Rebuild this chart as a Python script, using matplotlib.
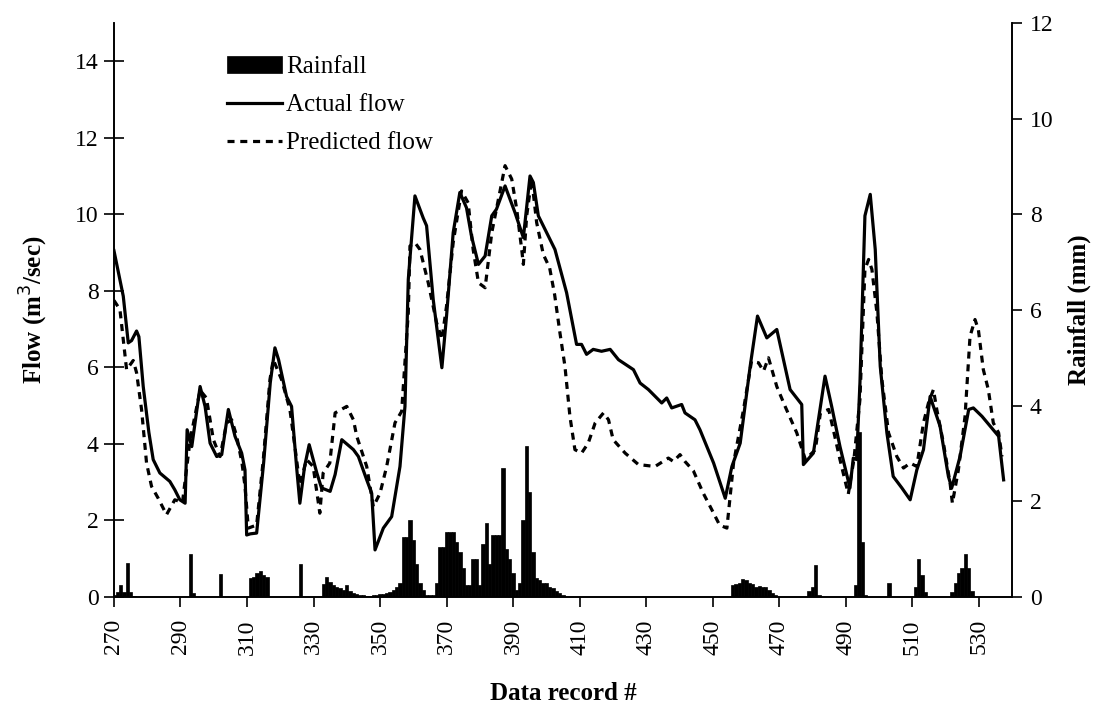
import matplotlib
matplotlib.use('Agg')
import matplotlib.pyplot as plt
import numpy as np

plt.rcParams['font.family'] = ['Liberation Serif', 'DejaVu Serif']

# registro / vazão observada (m3/s)
actual_x = [270.0, 272.8, 274.3, 275.3, 276.8, 277.5, 278.8, 280.5, 281.8, 283.8, 286.8, 288.3, 289.8,
            291.4, 292.0, 293.4, 295.9, 297.4, 298.9, 300.9, 302.4, 304.4, 306.4, 308.4, 309.4, 309.9,
            311.0, 312.9, 315.0, 317.0, 318.4, 319.5, 321.9, 323.4, 324.9, 325.9, 327.3, 328.7, 331.0,
            332.4, 335.0, 336.5, 338.5, 342.0, 343.5, 346.0, 347.5, 348.5, 351.0, 353.5, 356.0, 357.5,
            358.5, 360.5, 363.0, 364.0, 366.0, 368.6, 370.0, 372.0, 374.0, 376.0, 377.5, 379.6, 381.6,
            383.6, 385.0, 387.6, 390.6, 393.1, 395.1, 396.1, 397.6, 400.6, 402.6, 406.1, 409.1, 410.6,
            412.1, 414.1, 416.6, 419.2, 421.7, 426.2, 428.2, 430.7, 434.7, 436.2, 437.7, 440.7, 441.7,
            444.7, 446.2, 450.3, 453.8, 455.8, 458.3, 461.3, 463.5, 466.3, 469.3, 473.3, 476.8, 477.3,
            480.3, 483.8, 485.8, 488.3, 491.3, 492.3, 493.3, 494.3, 495.8, 497.4, 498.9, 500.4, 502.4,
            504.3, 506.9, 509.4, 511.4, 513.4, 515.4, 516.4, 518.4, 520.9, 521.9, 524.4, 527.0, 528.4,
            531.0, 533.5, 536.0, 537.5]
actual_y = [9.05, 7.86, 6.64, 6.70, 6.95, 6.80, 5.50, 4.30, 3.59, 3.24, 3.02, 2.80, 2.54,
            2.45, 4.37, 3.93, 5.50, 4.98, 4.02, 3.67, 3.72, 4.90, 4.20, 3.76, 3.32, 1.62,
            1.65, 1.67, 3.50, 5.60, 6.51, 6.20, 5.24, 4.98, 3.41, 2.45, 3.40, 3.98, 3.24,
            2.85, 2.76, 3.20, 4.11, 3.85, 3.67, 3.06, 2.71, 1.23, 1.80, 2.10, 3.41, 4.98,
            8.30, 10.48, 9.90, 9.70, 7.77, 5.99, 7.34, 9.52, 10.57, 10.17, 9.43, 8.69, 8.91,
            9.96, 10.13, 10.74, 10.04, 9.39, 11.00, 10.83, 9.96, 9.43, 9.08, 7.95, 6.60, 6.60,
            6.34, 6.47, 6.42, 6.47, 6.20, 5.94, 5.59, 5.42, 5.07, 5.20, 4.94, 5.03, 4.81,
            4.63, 4.37, 3.50, 2.58, 3.41, 4.02, 6.03, 7.34, 6.77, 6.99, 5.42, 5.03, 3.46,
            3.76, 5.77, 4.98, 3.93, 2.85, 3.63, 3.59, 5.59, 9.96, 10.52, 9.08, 6.03, 4.29,
            3.15, 2.85, 2.54, 3.32, 3.85, 5.24, 4.98, 4.46, 3.15, 2.85, 3.67, 4.90, 4.94,
            4.72, 4.46, 4.20, 3.06]

# vazão prevista (m3/s)
pred_x = [270.0, 271.8, 272.8, 273.8, 275.8, 276.8, 278.3, 279.8, 281.3, 283.3, 285.8, 288.3, 290.6,
          292.9, 295.9, 297.8, 299.9, 301.9, 303.9, 305.4, 306.9, 308.5, 309.4, 310.4, 312.9, 314.9,
          316.9, 317.9, 320.4, 322.9, 324.4, 325.9, 327.9, 329.9, 331.9, 332.9, 334.9, 336.5, 340.0,
          342.0, 343.0, 346.0, 348.0, 350.0, 352.0, 354.5, 356.5, 358.5, 359.0, 360.5, 362.0, 364.5,
          367.0, 368.6, 370.0, 372.0, 374.5, 376.5, 378.0, 379.6, 381.6, 383.6, 385.0, 387.6, 389.6,
          391.1, 392.6, 393.1, 394.1, 395.6, 397.1, 399.1, 401.0, 402.5, 404.1, 405.6, 407.1, 408.6,
          410.6, 412.6, 414.7, 417.2, 418.7, 420.1, 423.7, 427.7, 432.7, 436.7, 438.2, 440.2, 441.7,
          444.2, 447.2, 450.3, 452.1, 454.3, 456.3, 459.3, 461.7, 463.8, 465.3, 466.8, 469.3, 471.8,
          475.3, 477.9, 480.9, 482.4, 484.9, 486.3, 488.3, 490.8, 492.5, 494.3, 495.8, 496.9, 497.9,
          499.4, 500.9, 502.9, 505.4, 507.4, 509.4, 511.4, 513.4, 514.9, 516.4, 517.4, 519.4, 521.4,
          522.1, 523.9, 525.9, 527.4, 528.9, 529.9, 531.4, 532.9, 534.4, 536.0, 537.0]
pred_y = [7.75, 7.51, 6.73, 5.94, 6.18, 5.86, 4.90, 3.50, 2.89, 2.58, 2.15, 2.54, 2.47,
          4.11, 5.40, 5.20, 4.11, 3.67, 4.55, 4.63, 4.20, 3.50, 2.89, 1.80, 1.88, 3.59,
          5.68, 6.20, 5.68, 4.90, 3.93, 2.93, 3.59, 3.41, 2.19, 3.24, 3.50, 4.81, 4.98,
          4.63, 4.20, 3.41, 2.36, 2.71, 3.41, 4.55, 4.85, 7.43, 9.17, 9.26, 9.08, 8.21,
          7.17, 6.73, 7.60, 9.26, 10.61, 10.30, 9.08, 8.21, 8.08, 9.52, 10.13, 11.27, 10.92,
          10.13, 9.08, 8.69, 9.96, 10.92, 9.78, 8.95, 8.60, 7.90, 6.90, 6.03, 4.72, 3.85,
          3.76, 4.02, 4.55, 4.81, 4.63, 4.11, 3.76, 3.46, 3.41, 3.63, 3.54, 3.72, 3.54,
          3.30, 2.71, 2.19, 1.88, 1.80, 3.50, 4.90, 6.16, 6.12, 5.90, 6.25, 5.50, 4.98,
          4.29, 3.59, 3.85, 4.81, 4.90, 4.37, 3.59, 2.69, 3.60, 5.16, 8.56, 8.82, 8.56,
          7.43, 5.68, 4.29, 3.67, 3.37, 3.50, 3.41, 4.55, 5.07, 5.42, 4.90, 4.02, 2.98,
          2.45, 3.32, 4.72, 6.81, 7.25, 6.99, 5.94, 5.42, 4.55, 4.29, 3.67]

# chuva (mm) por registro
rain_rec = [270, 271, 272, 273, 274, 275, 276, 293, 294, 302, 311, 312, 313, 314, 315, 316, 326,
            333, 334, 335, 336, 337, 338, 339, 340, 341, 342, 343, 344, 345, 346, 347, 348, 349, 350,
            351, 352, 353, 354, 355, 356, 357, 358, 359, 360, 361, 362, 363, 364, 365, 366, 367, 368,
            369, 370, 371, 372, 373, 374, 375, 376, 377, 378, 379, 380, 381, 382, 383, 384, 385, 386,
            387, 388, 389, 390, 391, 392, 393, 394, 395, 396, 397, 398, 399, 400, 401, 402, 403, 404,
            405, 456, 457, 458, 459, 460, 461, 462, 463, 464, 465, 466, 467, 468, 469, 479, 480, 481,
            482, 493, 494, 495, 496, 503, 511, 512, 513, 514, 522, 523, 524, 525, 526, 527, 528]
rain_mm = [0.05, 0.10, 0.25, 0.10, 0.72, 0.10, 0.03, 0.90, 0.08, 0.48, 0.40, 0.42, 0.50, 0.55, 0.45, 0.42, 0.70,
           0.28, 0.42, 0.32, 0.25, 0.20, 0.18, 0.15, 0.25, 0.12, 0.08, 0.06, 0.05, 0.04, 0.03, 0.03, 0.04, 0.05, 0.06,
           0.07, 0.08, 0.10, 0.15, 0.20, 0.30, 1.25, 1.25, 1.60, 1.20, 0.70, 0.30, 0.15, 0.05, 0.04, 0.04, 0.30, 1.05,
           1.05, 1.36, 1.36, 1.36, 1.15, 0.95, 0.60, 0.25, 0.25, 0.80, 0.80, 0.25, 1.10, 1.55, 0.70, 1.30, 1.30, 1.30,
           2.70, 1.00, 0.80, 0.50, 0.15, 0.30, 1.60, 3.15, 2.20, 0.95, 0.40, 0.35, 0.30, 0.30, 0.20, 0.18, 0.12, 0.08,
           0.04, 0.25, 0.28, 0.30, 0.38, 0.35, 0.30, 0.28, 0.20, 0.22, 0.20, 0.20, 0.15, 0.08, 0.04, 0.12, 0.20, 0.66,
           0.05, 0.25, 3.45, 1.15, 0.05, 0.30, 0.20, 0.80, 0.45, 0.10, 0.10, 0.30, 0.50, 0.60, 0.90, 0.60, 0.12]

x_ticks = list(range(270, 531, 20))

fig = plt.figure(figsize=(11.01, 7.07), dpi=100)
ax1 = fig.add_axes([0.1035, 0.1556, 0.8156, 0.812])
ax2 = ax1.twinx()

# barras de chuva no eixo da direita
barras = ax2.bar(rain_rec, rain_mm, width=1.0, color='black', edgecolor='black', linewidth=0.5,
                 label='Rainfall')
ax2.set_ylim(0, 12)
ax2.set_yticks(range(0, 13, 2))

l1, = ax1.plot(actual_x, actual_y, color='black', linewidth=2.3, label='Actual flow')
l2, = ax1.plot(pred_x, pred_y, color='black', linewidth=2.3, dashes=(2.2, 1.8), label='Predicted flow')

ax1.set_xlim(270, 540)
ax1.set_ylim(0, 15)
ax1.set_yticks(range(0, 15, 2))
ax1.set_xticks(x_ticks)
ax1.set_xticklabels([str(t) for t in x_ticks], rotation=90)

for ax in (ax1, ax2):
    ax.spines['top'].set_visible(False)
    for s in ax.spines.values():
        s.set_linewidth(1.2)

ax1.tick_params(axis='y', direction='inout', length=14, width=1.2, labelsize=17, pad=4)
ax1.tick_params(axis='x', direction='out', length=7, width=1.2, labelsize=17, pad=9)
ax2.tick_params(axis='y', direction='out', length=7, width=1.2, labelsize=17, pad=6)

ax1.set_xlabel('Data record #', fontsize=18, fontweight='bold', labelpad=20)
ax1.set_ylabel('Flow (m$^3$/sec)', fontsize=18, fontweight='bold', labelpad=18)
ax2.set_ylabel('Rainfall (mm)', fontsize=18, fontweight='bold', labelpad=10)

ax2.legend([barras, l1, l2], ['Rainfall', 'Actual flow', 'Predicted flow'],
           loc='upper left', bbox_to_anchor=(0.115, 0.96), frameon=False, fontsize=18,
           handlelength=2.2, handletextpad=0.15, labelspacing=0.62, borderaxespad=0)

fig.savefig('out.png', dpi=100)
